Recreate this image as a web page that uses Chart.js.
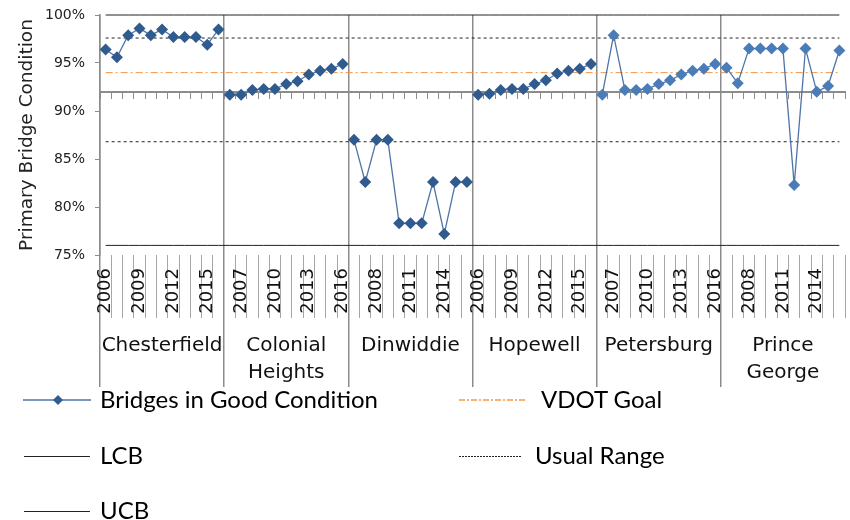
<!DOCTYPE html>
<html>
<head>
<meta charset="utf-8">
<script src="https://cdn.jsdelivr.net/npm/chart.js@4.4.1/dist/chart.umd.min.js"></script>
<style>
html,body{margin:0;padding:0;background:#fff;}
#wrap{position:relative;width:850px;height:520px;overflow:hidden;}
#c{position:absolute;left:0;top:0;}
.lt{position:absolute;height:40px;line-height:40px;font-family:Lato,'Liberation Sans',sans-serif;font-size:24px;color:#000;white-space:nowrap;}
.ls{position:absolute;}
</style>
</head>
<body>
<div id="wrap">
<canvas id="c" width="850" height="520"></canvas>
<svg class="ls" style="left:23px;top:390px" width="68" height="20"><line x1="0" y1="10" x2="68" y2="10" stroke="#4F74A6" stroke-width="1.5"/><path d="M35 5 L40 10 L35 15 L30 10 Z" fill="#2F5B8F"/></svg>
<div class="lt" style="left:100px;top:379px">Bridges in Good Condition</div>
<svg class="ls" style="left:459px;top:390px" width="68" height="20"><line x1="0" y1="10" x2="68" y2="10" stroke="#F79646" stroke-width="1.5" stroke-dasharray="6 2 2 2"/></svg>
<div class="lt" style="left:541px;top:379px">VDOT Goal</div>
<svg class="ls" style="left:24px;top:446px" width="66" height="20"><line x1="0" y1="10.5" x2="66" y2="10.5" stroke="#222" stroke-width="1"/></svg>
<div class="lt" style="left:100px;top:435px">LCB</div>
<svg class="ls" style="left:459px;top:446px" width="63" height="20"><line x1="0" y1="10.5" x2="63" y2="10.5" stroke="#222" stroke-width="1" stroke-dasharray="2 1"/></svg>
<div class="lt" style="left:535px;top:435px">Usual Range</div>
<svg class="ls" style="left:24px;top:501px" width="66" height="20"><line x1="0" y1="10.5" x2="66" y2="10.5" stroke="#222" stroke-width="1"/></svg>
<div class="lt" style="left:100px;top:490px">UCB</div>
</div>
<script>
const counties = ['Chesterfield', ['Colonial', 'Heights'], 'Dinwiddie', 'Hopewell', 'Petersburg', ['Prince', 'George']];
const years = ['2006', '2007', '2008', '2009', '2010', '2011', '2012', '2013', '2014', '2015', '2016'];
const chesterfield    = [96.4, 95.6, 97.9, 98.6, 97.9, 98.5, 97.7, 97.7, 97.7, 96.9, 98.5];
const colonialHeights = [91.7, 91.7, 92.2, 92.3, 92.3, 92.8, 93.1, 93.8, 94.2, 94.4, 94.9];
const dinwiddie       = [87.0, 82.6, 87.0, 87.0, 78.3, 78.3, 78.3, 82.6, 77.2, 82.6, 82.6];
const hopewell        = [91.7, 91.8, 92.2, 92.3, 92.3, 92.8, 93.2, 93.9, 94.2, 94.4, 94.9];
const petersburg      = [91.7, 97.9, 92.2, 92.2, 92.3, 92.8, 93.2, 93.8, 94.2, 94.4, 94.9];
const princeGeorge    = [94.5, 92.9, 96.5, 96.5, 96.5, 96.5, 82.3, 96.5, 92.0, 92.6, 96.3];
const vdotGoal = 94.0;
const usualRangeHigh = 97.6;
const usualRangeLow = 86.8;
const lcb = 76.0;
const ucb = 100.0;
const axisCrossing = 92.0;
const yTickValues = [75, 80, 85, 90, 95, 100];

const perGroup = years.length;
const catLabels = counties.flatMap(() => years);
const groupLabels = counties.flatMap(c => years.map((y, i) => i === Math.floor(perGroup / 2) ? c : ''));
const bridgeValues = [].concat(chesterfield, colonialHeights, dinwiddie, hopewell, petersburg, princeGeorge);
const constant = v => catLabels.map(() => v);

const refLine = (label, value, color, dash) => ({
  label, data: constant(value), borderColor: color, borderWidth: 1, borderDash: dash,
  pointRadius: 0, pointHoverRadius: 0, fill: false, clip: 3
});

const isGroupEdge = ctx => ctx.index % perGroup === 0;
const GRAY = '#8c8c8c';

new Chart(document.getElementById('c'), {
  type: 'line',
  data: {
    labels: catLabels,
    datasets: [
      {
        label: 'Bridges in Good Condition',
        data: bridgeValues,
        borderColor: '#4F74A6',
        borderWidth: 1.3,
        pointStyle: 'rectRot',
        pointRadius: 6,
        pointBorderWidth: 0,
        pointBackgroundColor: ctx => ctx.dataIndex < 4 * perGroup ? '#305B8E' : '#4A7CB8',
        segment: { borderColor: ctx => (ctx.p0DataIndex % perGroup === perGroup - 1) ? 'rgba(0,0,0,0)' : undefined },
        tension: 0, clip: 8
      },
      refLine('VDOT Goal', vdotGoal, '#F79646', [7, 3, 2, 3]),
      refLine('Usual Range', usualRangeHigh, '#222', [3, 3]),
      refLine('Usual Range Low', usualRangeLow, '#222', [3, 3]),
      refLine('LCB', lcb, '#222', []),
      refLine('UCB', ucb, '#222', [])
    ]
  },
  options: {
    responsive: false,
    animation: false,
    events: [],
    layout: { autoPadding: false, padding: { left: 0, right: 5, top: 15, bottom: 133 } },
    plugins: { legend: { display: false }, tooltip: { enabled: false } },
    scales: {
      y: {
        min: 75, max: 100,
        afterBuildTicks: s => { s.ticks = yTickValues.map(v => ({ value: v })); },
        afterFit: s => { s.width = 100; s.paddingTop = 0; s.paddingBottom = 0; },
        grid: { drawOnChartArea: false, tickLength: 5, color: GRAY },
        border: { display: true, color: GRAY, width: 1.5 },
        ticks: { padding: 10, color: '#222', font: { family: 'DejaVu Sans', size: 14 }, callback: v => v + '%' },
        title: { display: true, text: 'Primary Bridge Condition', color: '#222', font: { family: 'DejaVu Sans', size: 18.5 }, padding: { top: 16, bottom: 0 } }
      },
      x: {
        type: 'category', position: 'bottom', offset: true,
        afterFit: s => { s.height = 63; },
        grid: {
          offset: true, drawOnChartArea: true, drawTicks: true, tickLength: 63,
          color: ctx => isGroupEdge(ctx) ? GRAY : 'rgba(0,0,0,0)',
          lineWidth: ctx => isGroupEdge(ctx) ? 1.5 : 1,
          tickColor: ctx => isGroupEdge(ctx) ? GRAY : '#a6a6a6',
          tickWidth: ctx => isGroupEdge(ctx) ? 1.5 : 1
        },
        border: { display: false },
        ticks: {
          autoSkip: false, maxRotation: 90, minRotation: 90, padding: -50, color: '#111',
          font: { family: 'DejaVu Sans', size: 18 },
          callback: (v, i) => i % 3 === 0 ? catLabels[i] : ''
        }
      },
      x2: {
        type: 'category', position: 'bottom', offset: true, labels: groupLabels,
        afterFit: s => { s.height = 69; },
        grid: {
          offset: true, drawOnChartArea: false, drawTicks: true, tickLength: 69,
          color: ctx => isGroupEdge(ctx) ? GRAY : 'rgba(0,0,0,0)',
          lineWidth: 1.5
        },
        border: { display: false },
        ticks: {
          autoSkip: false, maxRotation: 0, minRotation: 0, padding: -55, color: '#111',
          font: { family: 'DejaVu Sans', size: 20, lineHeight: 1.35 }
        }
      },
      xmid: {
        type: 'category', position: { y: axisCrossing }, offset: true,
        grid: { offset: true, drawOnChartArea: false, drawTicks: true, tickLength: 6, color: GRAY, lineWidth: 1 },
        border: { display: true, color: GRAY, width: 2 },
        ticks: { display: false }
      }
    }
  }
});
</script>
</body>
</html>
